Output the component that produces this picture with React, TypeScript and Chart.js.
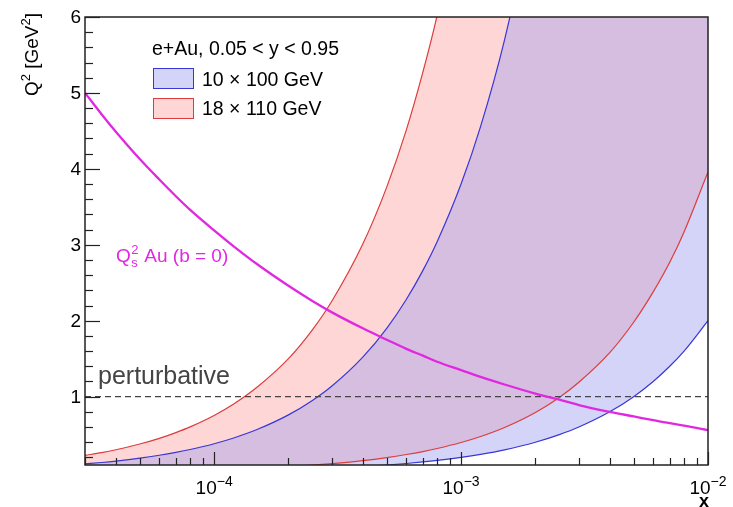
import { useEffect, useRef } from "react";
import { Chart, registerables } from "chart.js";

Chart.register(...registerables);

// x (Bjorken x) sampling points
const xValues = [
  3e-5, 3.5e-5, 4e-5, 5e-5, 6e-5, 7e-5, 8e-5,
  1e-4, 1.2e-4, 1.5e-4, 2e-4, 2.5e-4, 3e-4, 4e-4, 5e-4, 6e-4, 7e-4, 8e-4,
  1e-3, 1.2e-3, 1.5e-3, 2e-3, 2.5e-3, 3e-3, 4e-3, 5e-3, 6e-3, 7e-3, 8e-3,
  1e-2,
];

// Saturation scale Q_s^2 for Au (b = 0)
const qs2Au = [
  5.0, 4.72, 4.49, 4.13, 3.86, 3.64, 3.46,
  3.19, 2.98, 2.74, 2.46, 2.26, 2.11, 1.9, 1.75, 1.63, 1.54, 1.46,
  1.35, 1.26, 1.16, 1.04, 0.96, 0.89, 0.8, 0.74, 0.69, 0.65, 0.62,
  0.56,
];

// 10 x 100 GeV band (y = 0.95 upper edge, y = 0.05 lower edge)
const upper10x100 = [
  0.114, 0.133, 0.152, 0.19, 0.228, 0.266, 0.304,
  0.38, 0.456, 0.57, 0.76, 0.95, 1.14, 1.52, 1.9, 2.28, 2.66, 3.04,
  3.8, 4.56, 5.7, 7.6, 9.5, 11.4, 15.2, 19.0, 22.8, 26.6, 30.4,
  38.0,
];
const lower10x100 = [
  0.006, 0.007, 0.008, 0.01, 0.012, 0.014, 0.016,
  0.02, 0.024, 0.03, 0.04, 0.05, 0.06, 0.08, 0.1, 0.12, 0.14, 0.16,
  0.2, 0.24, 0.3, 0.4, 0.5, 0.6, 0.8, 1.0, 1.2, 1.4, 1.6,
  2.0,
];

// 18 x 110 GeV band
const upper18x110 = [
  0.226, 0.263, 0.301, 0.376, 0.451, 0.527, 0.602,
  0.752, 0.903, 1.13, 1.5, 1.88, 2.26, 3.01, 3.76, 4.51, 5.27, 6.02,
  7.52, 9.03, 11.3, 15.0, 18.8, 22.6, 30.1, 37.6, 45.1, 52.7, 60.2,
  75.2,
];
const lower18x110 = [
  0.012, 0.014, 0.016, 0.02, 0.024, 0.028, 0.032,
  0.04, 0.048, 0.059, 0.079, 0.099, 0.119, 0.158, 0.198, 0.238, 0.277, 0.317,
  0.396, 0.475, 0.594, 0.792, 0.99, 1.19, 1.58, 1.98, 2.38, 2.77, 3.17,
  3.96,
];

// perturbative boundary
const perturbativeX = [3e-5, 1e-2];
const perturbativeY = [1, 1];

// axis ranges / ticks
const xMin = 3e-5;
const xMax = 1e-2;
const yMin = 0.1;
const yMax = 6;
const yTickLabels = [1, 2, 3, 4, 5, 6];
const xTickExponents = [-4, -3, -2];

const FONT = '"Liberation Sans", Arial, Helvetica, sans-serif';
const BLUE_LINE = "rgb(55,55,215)";
const RED_LINE = "rgb(220,60,60)";
const BLUE_FILL = "rgb(212,212,248)";
const RED_FILL = "rgb(255,214,214)";
const OVERLAP_FILL = "rgb(213,190,224)";
const MAGENTA = "rgb(225,40,225)";

const pts = (xs: number[], ys: number[]) => xs.map((x, i) => ({ x, y: ys[i] }));

const decorPlugin = {
  id: "decor",
  afterDraw(chart: any) {
    const ctx: CanvasRenderingContext2D = chart.ctx;
    const xs = chart.scales.x;
    const ys = chart.scales.y;
    const { left, right, top, bottom } = chart.chartArea;
    ctx.save();

    // frame
    ctx.strokeStyle = "#222";
    ctx.lineWidth = 1.5;
    ctx.strokeRect(left, top, right - left, bottom - top);

    // y ticks (inward)
    ctx.lineWidth = 1.2;
    for (let i = 1; i <= 30; i++) {
      const v = i / 5;
      if (v < yMin || v > yMax) continue;
      const py = Math.round(ys.getPixelForValue(v)) + 0.5;
      const len = i % 5 === 0 ? 15 : 8;
      ctx.beginPath();
      ctx.moveTo(left, py);
      ctx.lineTo(left + len, py);
      ctx.stroke();
    }
    // x ticks (inward)
    for (let e = -5; e <= -2; e++) {
      for (let k = 1; k <= 9; k++) {
        const v = k * Math.pow(10, e);
        if (v < xMin * 0.999 || v > xMax * 1.001) continue;
        const px = Math.round(xs.getPixelForValue(v)) + 0.5;
        const len = k === 1 ? 13 : 7;
        ctx.beginPath();
        ctx.moveTo(px, bottom);
        ctx.lineTo(px, bottom - len);
        ctx.stroke();
      }
    }

    // y tick labels
    ctx.fillStyle = "#000";
    ctx.font = `19px ${FONT}`;
    ctx.textAlign = "right";
    ctx.textBaseline = "middle";
    yTickLabels.forEach((v) => {
      ctx.fillText(String(v), left - 4, ys.getPixelForValue(v) + 1);
    });

    // x tick labels 10^n
    ctx.textBaseline = "alphabetic";
    ctx.textAlign = "left";
    xTickExponents.forEach((ex) => {
      const px = xs.getPixelForValue(Math.pow(10, ex));
      ctx.font = `19px ${FONT}`;
      const baseW = ctx.measureText("10").width;
      ctx.font = `14px ${FONT}`;
      const sup = "\u2212" + String(-ex);
      const supW = ctx.measureText(sup).width;
      const x0 = px - (baseW + supW) / 2;
      ctx.font = `19px ${FONT}`;
      ctx.fillText("10", x0, 494);
      ctx.font = `14px ${FONT}`;
      ctx.fillText(sup, x0 + baseW, 486);
    });

    // x axis title
    ctx.font = `bold 18px ${FONT}`;
    ctx.textAlign = "right";
    ctx.fillText("x", right + 1, 507);

    // y axis title, rotated
    ctx.save();
    ctx.translate(38, 13);
    ctx.rotate(-Math.PI / 2);
    ctx.textAlign = "left";
    const parts: [string, boolean][] = [
      ["Q", false],
      ["2", true],
      [" [GeV", false],
      ["2", true],
      ["]", false],
    ];
    let total = 0;
    parts.forEach(([t, s]) => {
      ctx.font = s ? `13px ${FONT}` : `19px ${FONT}`;
      total += ctx.measureText(t).width;
    });
    let cx = -total;
    parts.forEach(([t, s]) => {
      ctx.font = s ? `13px ${FONT}` : `19px ${FONT}`;
      ctx.fillText(t, cx, s ? -8 : 0);
      cx += ctx.measureText(t).width;
    });
    ctx.restore();

    // legend
    ctx.textAlign = "left";
    ctx.textBaseline = "alphabetic";
    ctx.fillStyle = "#000";
    ctx.font = `19.5px ${FONT}`;
    ctx.fillText("e+Au, 0.05 < y < 0.95", 152, 55);
    ctx.fillStyle = BLUE_FILL;
    ctx.fillRect(153, 68, 40, 20);
    ctx.strokeStyle = BLUE_LINE;
    ctx.lineWidth = 1;
    ctx.strokeRect(153.5, 68.5, 40, 20);
    ctx.fillStyle = RED_FILL;
    ctx.fillRect(153, 98, 40, 20);
    ctx.strokeStyle = RED_LINE;
    ctx.strokeRect(153.5, 98.5, 40, 20);
    ctx.fillStyle = "#000";
    ctx.font = `19.5px ${FONT}`;
    ctx.fillText("10 \u00d7 100 GeV", 202, 86);
    ctx.fillText("18 \u00d7 110 GeV", 202, 115);

    // perturbative label
    ctx.fillStyle = "#444";
    ctx.font = `25px ${FONT}`;
    ctx.fillText("perturbative", 98, 384);

    // Qs label
    ctx.fillStyle = MAGENTA;
    ctx.font = `19px ${FONT}`;
    const qx = 116;
    const qy = 262;
    ctx.fillText("Q", qx, qy);
    const qW = ctx.measureText("Q").width;
    ctx.font = `13px ${FONT}`;
    ctx.fillText("2", qx + qW + 0.5, qy - 8);
    ctx.fillText("s", qx + qW + 0.5, qy + 5);
    const sW = ctx.measureText("2").width;
    ctx.font = `19px ${FONT}`;
    ctx.fillText(" Au (b = 0)", qx + qW + sW + 1, qy);

    ctx.restore();
  },
};

export default function App() {
  const canvasRef = useRef<HTMLCanvasElement | null>(null);

  useEffect(() => {
    const canvas = canvasRef.current;
    if (!canvas) return;
    const lineBase = {
      pointRadius: 0,
      pointHoverRadius: 0,
      cubicInterpolationMode: "monotone" as const,
      clip: 0,
    };
    const chart = new Chart(canvas, {
      type: "line",
      data: {
        datasets: [
          {
            ...lineBase,
            label: "Qs2 Au (b = 0)",
            data: pts(xValues, qs2Au),
            borderColor: MAGENTA,
            borderWidth: 2.3,
            fill: false,
          },
          {
            ...lineBase,
            label: "perturbative",
            data: pts(perturbativeX, perturbativeY),
            borderColor: "#444",
            borderWidth: 1.3,
            borderDash: [6, 4],
            fill: false,
          },
          {
            ...lineBase,
            label: "18x110 lower",
            data: pts(xValues, lower18x110),
            borderColor: RED_LINE,
            borderWidth: 1.2,
            backgroundColor: OVERLAP_FILL,
            fill: 4,
          },
          {
            ...lineBase,
            label: "18x110 upper",
            data: pts(xValues, upper18x110),
            borderColor: RED_LINE,
            borderWidth: 1.2,
            backgroundColor: RED_FILL,
            fill: 2,
          },
          {
            ...lineBase,
            label: "10x100 upper",
            data: pts(xValues, upper10x100),
            borderColor: BLUE_LINE,
            borderWidth: 1.2,
            fill: false,
          },
          {
            ...lineBase,
            label: "10x100 lower",
            data: pts(xValues, lower10x100),
            borderColor: BLUE_LINE,
            borderWidth: 1.2,
            backgroundColor: BLUE_FILL,
            fill: 4,
          },
        ],
      },
      options: {
        animation: false,
        responsive: false,
        maintainAspectRatio: false,
        devicePixelRatio: 1,
        layout: { padding: { left: 85, right: 25, top: 17, bottom: 42 } },
        scales: {
          x: { type: "logarithmic", min: xMin, max: xMax, display: false },
          y: { type: "linear", min: yMin, max: yMax, display: false },
        },
        plugins: {
          legend: { display: false },
          tooltip: { enabled: false },
          filler: { drawTime: "beforeDatasetsDraw", propagate: false },
        },
        events: [],
      } as any,
      plugins: [decorPlugin],
    });
    return () => chart.destroy();
  }, []);

  return (
    <div style={{ position: "fixed", left: 0, top: 0, width: 733, height: 507, background: "#fff" }}>
      <canvas ref={canvasRef} width={733} height={507} style={{ width: 733, height: 507, display: "block" }} />
    </div>
  );
}
